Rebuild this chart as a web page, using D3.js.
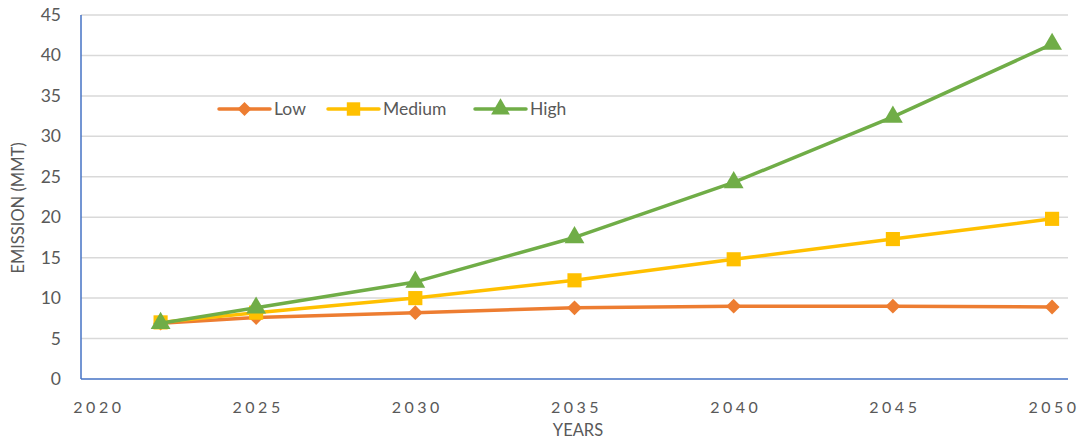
<!DOCTYPE html>
<html>
<head>
<meta charset="utf-8">
<script src="https://cdn.jsdelivr.net/npm/d3@7"></script>
<style>
  body { margin: 0; background: #fff; }
  text { font-family: Lato, "Open Sans", sans-serif; fill: #595959; }
</style>
</head>
<body>
<div id="chart"></div>
<script>
// data
const years = [2022, 2025, 2030, 2035, 2040, 2045, 2050];
const low = [6.9, 7.6, 8.2, 8.8, 9.0, 9.0, 8.9];
const medium = [7.0, 8.2, 10.0, 12.2, 14.8, 17.3, 19.8];
const high = [6.9, 8.8, 12.0, 17.5, 24.3, 32.4, 41.4];
const xTicks = [2020, 2025, 2030, 2035, 2040, 2045, 2050];
const yTicks = [0, 5, 10, 15, 20, 25, 30, 35, 40, 45];
const seriesNames = ["Low", "Medium", "High"];

const width = 1083, height = 443;
const plotLeft = 81, plotRight = 1068, plotTop = 15, plotBottom = 379;

const svg = d3.select('#chart').append('svg')
  .attr('width', width).attr('height', height);

const x = d3.scaleLinear().domain([2019.5, 2050.5]).range([plotLeft, plotRight]);
const y = d3.scaleLinear().domain([0, 45]).range([plotBottom, plotTop]);

// gridlines
svg.append('g').selectAll('line')
  .data(yTicks.filter(d => d > 0))
  .enter().append('line')
  .attr('x1', plotLeft).attr('x2', plotRight)
  .attr('y1', d => y(d)).attr('y2', d => y(d))
  .attr('stroke', '#d9d9d9').attr('stroke-width', 1.5);

// y tick labels
svg.append('g').selectAll('text')
  .data(yTicks)
  .enter().append('text')
  .attr('x', 61).attr('y', d => y(d) + 6)
  .attr('text-anchor', 'end')
  .attr('font-size', 17.5)
  .text(d => d);

// x tick labels
svg.append('g').selectAll('text')
  .data(xTicks)
  .enter().append('text')
  .attr('x', d => x(d) + 2).attr('y', 413)
  .attr('text-anchor', 'middle')
  .attr('font-size', 16)
  .attr('letter-spacing', 3.5)
  .text(d => d);

// axes lines
svg.append('line')
  .attr('x1', plotLeft).attr('x2', plotLeft).attr('y1', plotTop).attr('y2', plotBottom)
  .attr('stroke', '#4472c4').attr('stroke-width', 1.5);
svg.append('line')
  .attr('x1', plotLeft).attr('x2', plotRight).attr('y1', plotBottom).attr('y2', plotBottom)
  .attr('stroke', '#4472c4').attr('stroke-width', 1.5);

// axis titles
svg.append('text')
  .attr('transform', 'translate(24,208) rotate(-90)')
  .attr('text-anchor', 'middle')
  .attr('font-size', 16.5)
  .text('EMISSION (MMT)');
svg.append('text')
  .attr('x', 578).attr('y', 436)
  .attr('text-anchor', 'middle')
  .attr('font-size', 16.5)
  .text('YEARS');

// excel-style diamond: a square turned 45 degrees
const diamond = {
  draw(ctx, size) {
    const r = Math.sqrt(size / 2);
    ctx.moveTo(0, -r); ctx.lineTo(r, 0); ctx.lineTo(0, r); ctx.lineTo(-r, 0); ctx.closePath();
  }
};

const series = [
  {name: seriesNames[0], values: low, color: '#ed7d31', shape: diamond, size: 110},
  {name: seriesNames[1], values: medium, color: '#ffc000', shape: d3.symbolSquare, size: 200},
  {name: seriesNames[2], values: high, color: '#70ad47', shape: d3.symbolTriangle, size: 170}
];

const line = d3.line()
  .x((d, i) => x(years[i]))
  .y(d => y(d));

series.forEach(s => {
  const g = svg.append('g');
  g.append('path')
    .attr('d', line(s.values))
    .attr('fill', 'none')
    .attr('stroke', s.color)
    .attr('stroke-width', 3.5)
    .attr('stroke-linejoin', 'round');
  g.selectAll('path.m')
    .data(s.values)
    .enter().append('path')
    .attr('class', 'm')
    .attr('transform', (d, i) => 'translate(' + x(years[i]) + ',' + y(d) + ')')
    .attr('d', d3.symbol().type(s.shape).size(s.size))
    .attr('fill', s.color);
});

// legend
const legendX = [219, 328, 475];
series.forEach((s, i) => {
  const g = svg.append('g').attr('transform', 'translate(' + legendX[i] + ',109)');
  g.append('line')
    .attr('x1', 0).attr('x2', 51)
    .attr('stroke', s.color).attr('stroke-width', 3.5)
    .attr('stroke-linecap', 'round');
  g.append('path')
    .attr('transform', 'translate(25.5,0)')
    .attr('d', d3.symbol().type(s.shape).size(s.size * 0.9))
    .attr('fill', s.color);
  g.append('text')
    .attr('x', 55).attr('y', 6)
    .attr('font-size', 17.5)
    .text(s.name);
});
</script>
</body>
</html>
